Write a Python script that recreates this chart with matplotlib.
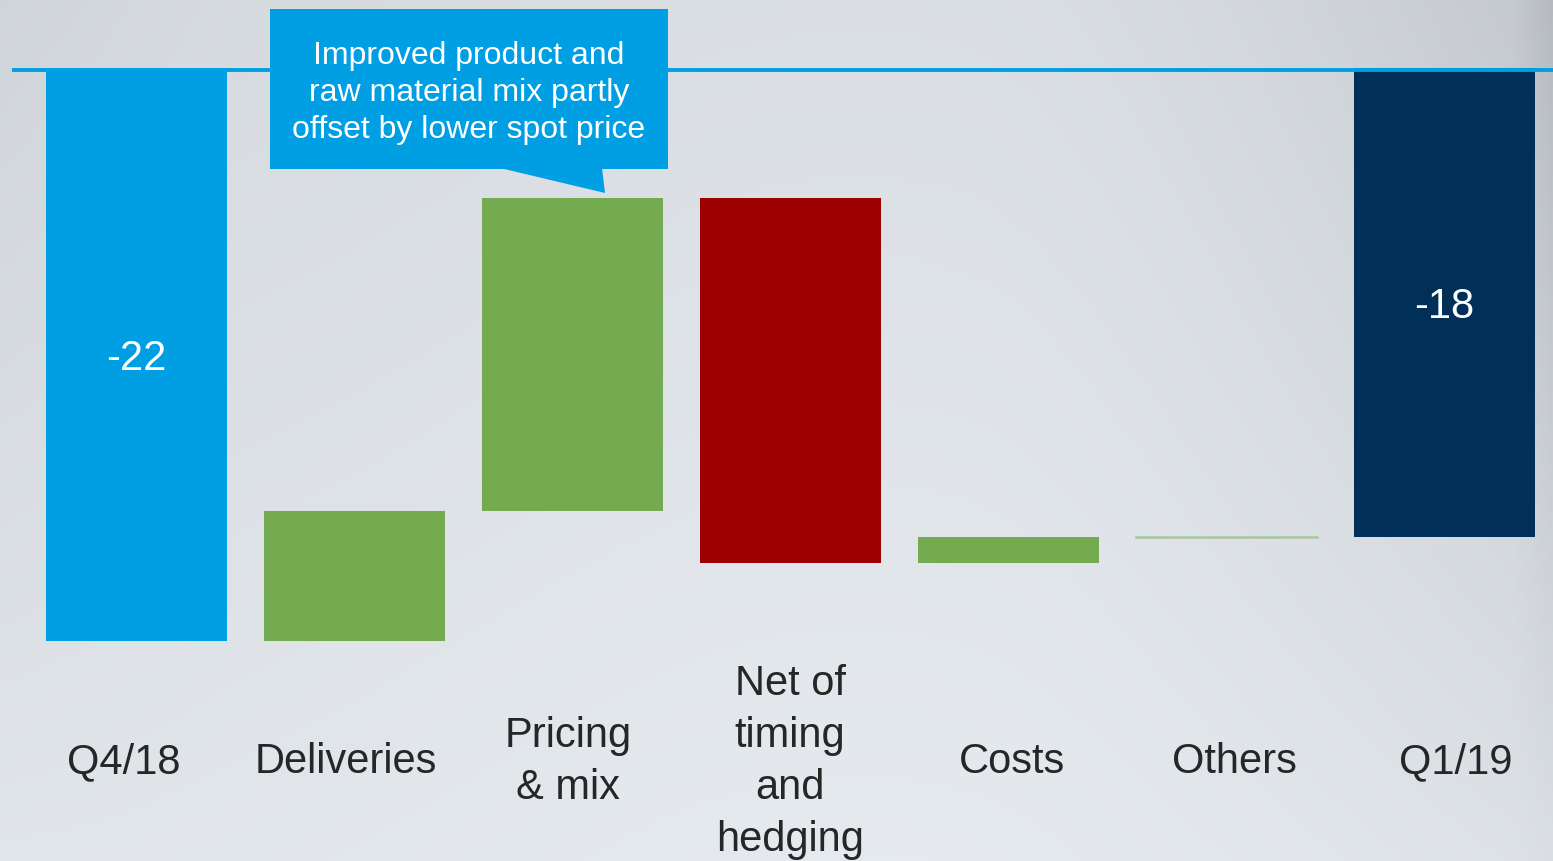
import numpy as np
import matplotlib
matplotlib.use("Agg")
import matplotlib.pyplot as plt
from matplotlib.patches import Rectangle, Polygon

plt.rcParams['font.family'] = ['Liberation Sans', 'DejaVu Sans']

# Waterfall data
categories = ["Q4/18", "Deliveries", "Pricing\n& mix", "Net of\ntiming\nand\nhedging",
              "Costs", "Others", "Q1/19"]
values = [-22, 5, 12, -14, 1, 0, -18]
is_total = [True, False, False, False, False, False, True]
value_labels = {0: "-22", 6: "-18"}
callout_text = "Improved product and\nraw material mix partly\noffset by lower spot price"

BLUE = "#009FE3"
GREEN = "#75AB50"
RED = "#9C0000"
NAVY = "#003057"
TEXT = "#262626"

W, H = 1553, 861
fig = plt.figure(figsize=(W / 100, H / 100), dpi=100)

# Brushed-metal style backdrop
bg = fig.add_axes([0, 0, 1, 1])
bg.set_axis_off()
yy, xx = np.mgrid[0:1:200j, 0:1:400j]
base = 0.865 + 0.045 * yy
centre = np.exp(-((xx - 0.55) / 0.35) ** 2) * 0.02
edge = np.clip((xx - 0.62) / 0.38, 0, 1) ** 1.8 * (1 - 0.75 * yy)
lum = base + centre - 0.075 * edge
lum -= 0.05 * np.clip((xx - 0.975) / 0.025, 0, 1) * (1 - 0.8 * yy)
lum -= 0.02 * np.clip(1 - xx / 0.15, 0, 1) * (1 - yy)
rgb = np.dstack([lum - 0.03, lum - 0.012, lum + 0.008])
bg.imshow(np.clip(rgb, 0, 1), extent=[0, 1, 0, 1], aspect='auto', origin='upper')
bg.set_xlim(0, 1)
bg.set_ylim(0, 1)

ax = fig.add_axes([0, 0, 1, 1])
ax.set_axis_off()
ax.patch.set_alpha(0)

px_per_x = 218.0
x0_px = 136.5
px_per_y = 26.05
y0_px = 68.0
ax.set_xlim(-x0_px / px_per_x, (W - x0_px) / px_per_x)
ax.set_ylim(-(H - y0_px) / px_per_y, y0_px / px_per_y)

def px(xp, yp):
    return ((xp - x0_px) / px_per_x, (y0_px - yp) / px_per_y)

# Bars
running = 0.0
bar_w = 181 / 218
for i, (v, tot) in enumerate(zip(values, is_total)):
    if tot:
        bottom, height = 0.0, v
        color = BLUE if i == 0 else NAVY
        running = v
    else:
        bottom, height = running, v
        running += v
        color = GREEN if v >= 0 else RED
    if height == 0:
        ax.plot([i - bar_w / 2, i + bar_w / 2], [bottom, bottom],
                color="#A9C79A", lw=1.8, zorder=2)
    else:
        ax.bar(i, height, bottom=bottom, width=bar_w, color=color,
               linewidth=0, zorder=2)
    if i in value_labels:
        ax.text(i, bottom + height / 2, value_labels[i], color="white",
                fontsize=30, ha="center", va="center_baseline", zorder=4)

# Zero line
xl, _ = px(12, 0)
ax.plot([xl, ax.get_xlim()[1]], [-0.08, -0.08], color=BLUE, lw=2.8,
        zorder=3, solid_capstyle='butt')

# Category labels, spaced slightly wider than the bars
label_y = px(0, 762)[1]
for i, lab in enumerate(categories):
    lx, _ = px(124 + 222 * i, 0)
    ax.text(lx, label_y, lab, color=TEXT, fontsize=30, ha="center",
            va="center", linespacing=1.38, zorder=4)

# Callout box with pointer
bx0, by0 = px(270, 169)
bx1, by1 = px(668, 9)
ax.add_patch(Rectangle((bx0, by0), bx1 - bx0, by1 - by0, facecolor=BLUE,
                       edgecolor="none", zorder=5))
ax.add_patch(Polygon([px(500, 168), px(602, 168), px(605, 193)],
                     closed=True, facecolor=BLUE, edgecolor="none", zorder=5))
cx, cy = px(469, 93)
ax.text(cx, cy, callout_text, color="white", fontsize=23, ha="center",
        va="center", linespacing=1.31, zorder=6)

fig.savefig("out.png", dpi=100)
